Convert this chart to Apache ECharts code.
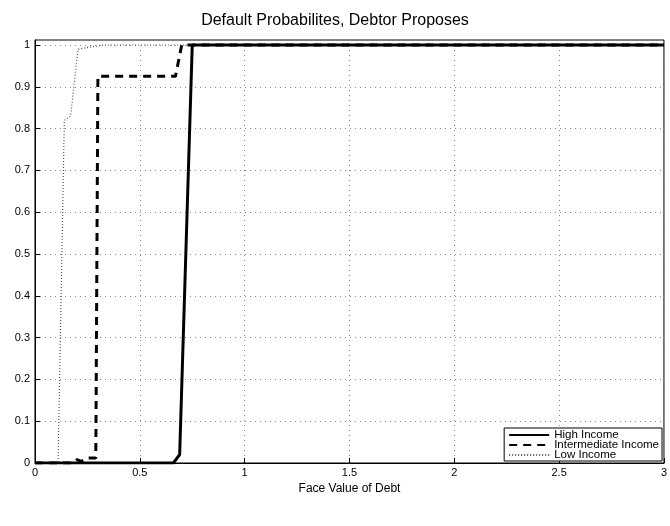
<!DOCTYPE html>
<html><head><meta charset="utf-8">
<script src="https://cdn.jsdelivr.net/npm/echarts@6/dist/echarts.min.js"></script>
<style>html,body{margin:0;padding:0;background:#fff}#c{width:670px;height:526px}</style>
</head><body><div id="c"></div>
<script>
var titleText = 'Default Probabilites, Debtor Proposes';
var xName = 'Face Value of Debt';
var seriesNames = ['High Income', 'Intermediate Income', 'Low Income'];
var highX = [0, 0.66, 0.69, 0.75, 3];
var highY = [0, 0, 0.02, 1, 1];
var interX = [0, 0.18, 0.20, 0.22, 0.25, 0.29, 0.30, 0.67, 0.70, 3];
var interY = [0, 0, 0.008, 0.004, 0.012, 0.012, 0.925, 0.925, 1, 1];
var lowX = [0, 0.11, 0.14, 0.17, 0.205, 0.26, 0.33, 3];
var lowY = [0, 0, 0.82, 0.83, 0.99, 0.995, 1, 1];

function pairs(xs, ys){ return xs.map(function(x,i){return [x, ys[i]];}); }
var font = 'Liberation Sans, Arial, sans-serif';
var chart = echarts.init(document.getElementById('c'));
chart.setOption({
  animation: false,
  backgroundColor: '#fff',
  title: { text: titleText, left: 'center', top: 8, textStyle: { fontFamily: font, fontSize: 16, fontWeight: 'normal', color: '#000' } },
  grid: { left: 35, right: 4, top: 40, bottom: 63, show: true, borderColor: '#000', borderWidth: 1 },
  legend: {
    orient: 'vertical', right: 8, bottom: 65,
    backgroundColor: '#fff', borderColor: '#000', borderWidth: 1,
    padding: [1, 3, 0, 4], itemGap: -2, itemWidth: 40, itemHeight: 8,
    itemStyle: { opacity: 0 },
    textStyle: { fontFamily: font, fontSize: 11.5, color: '#000', padding: [0,0,0,0] },
    data: seriesNames
  },
  xAxis: {
    type: 'value', min: 0, max: 3, interval: 0.5,
    name: xName, nameLocation: 'middle', nameGap: 17,
    nameTextStyle: { fontFamily: font, fontSize: 12, color: '#000' },
    axisLine: { lineStyle: { color: '#000' } },
    axisTick: { inside: true, length: 5, lineStyle: { color: '#000' } },
    axisLabel: { fontFamily: font, fontSize: 11, color: '#000', margin: 4 },
    splitLine: { show: true, lineStyle: { color: '#888', type: [1, 4], width: 1 } }
  },
  yAxis: {
    type: 'value', min: 0, max: 1.012, interval: 0.1,
    axisLine: { show: true, lineStyle: { color: '#000' } },
    axisTick: { inside: true, length: 5, lineStyle: { color: '#000' } },
    axisLabel: { fontFamily: font, fontSize: 11, color: '#000', margin: 5, showMaxLabel: false,
      formatter: function(v){ return String(Math.round(v*10)/10); } },
    splitLine: { show: true, lineStyle: { color: '#888', type: [1, 4], width: 1 } }
  },
  series: [
    { name: seriesNames[0], type: 'line', data: pairs(highX, highY), symbol: 'none',
      lineStyle: { color: '#000', width: 3 }, itemStyle: { color: '#000' }, z: 3 },
    { name: seriesNames[1], type: 'line', data: pairs(interX, interY), symbol: 'none',
      lineStyle: { color: '#000', width: 3, type: [8, 6] }, itemStyle: { color: '#000' }, z: 2 },
    { name: seriesNames[2], type: 'line', data: pairs(lowX, lowY), symbol: 'none',
      lineStyle: { color: '#555', width: 1.2, type: [1, 2] }, itemStyle: { color: '#555' }, z: 1 }
  ]
});
</script></body></html>
